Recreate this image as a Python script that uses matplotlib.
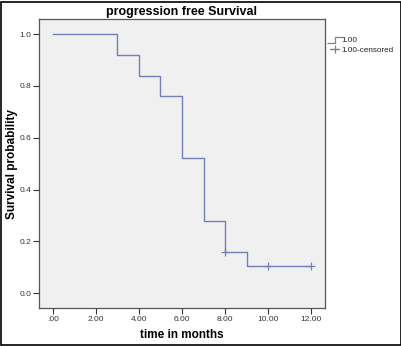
import matplotlib
matplotlib.use("Agg")
import matplotlib.pyplot as plt
from matplotlib.lines import Line2D
from matplotlib.path import Path
from matplotlib.patches import Rectangle

plt.rcParams['font.family'] = ['Liberation Sans', 'DejaVu Sans']

# Data
step_times = [0, 3, 4, 5, 6, 7, 8, 9, 12]
step_surv = [1.0, 0.92, 0.84, 0.76, 0.52, 0.28, 0.16, 0.1067, 0.1067]
cens_times = [8, 10, 12]
cens_surv = [0.16, 0.1067, 0.1067]
xticks = [0, 2, 4, 6, 8, 10, 12]
xtick_labels = ['.00', '2.00', '4.00', '6.00', '8.00', '10.00', '12.00']
yticks = [0.0, 0.2, 0.4, 0.6, 0.8, 1.0]
ytick_labels = ['0.0', '0.2', '0.4', '0.6', '0.8', '1.0']

W, H = 402, 346
fig = plt.figure(figsize=(W / 100, H / 100), dpi=100)
fig.patch.set_facecolor('white')
ax = fig.add_axes([39 / W, 1 - 308 / H, (325 - 39) / W, (308 - 19) / H])
ax.set_facecolor('#f0f0f0')

col = '#7281b5'
ax.step(step_times, step_surv, where='post', color=col, lw=1.0)
ax.plot(cens_times, cens_surv, linestyle='none', marker='+', color=col,
        markersize=6, markeredgewidth=0.9)

ax.set_xlim(-0.65, 12.65)
ax.set_ylim(-0.057, 1.058)
ax.set_xticks(xticks)
ax.set_xticklabels(xtick_labels)
ax.set_yticks(yticks)
ax.set_yticklabels(ytick_labels)
ax.tick_params(axis='both', labelsize=6, length=4, width=0.8, color='#333333',
               labelcolor='#333333', pad=1.5)
for s in ax.spines.values():
    s.set_color('#555555')
    s.set_linewidth(0.9)

fig.text(182 / W, 1 - 12.5 / H, 'progression free Survival', fontsize=9,
         fontweight='bold', ha='center', va='center')
fig.text(182 / W, 1 - 335 / H, 'time in months', fontsize=8.5,
         fontweight='bold', ha='center', va='center')
fig.text(12 / W, 1 - 164 / H, 'Survival probability', fontsize=8.5,
         fontweight='bold', ha='center', va='center', rotation=90)

# Legend
step_marker = Path([(-1, -0.4), (0, -0.4), (0, 0.4), (1, 0.4)])
h1 = Line2D([], [], linestyle='none', marker=step_marker, markersize=11,
            markerfacecolor='none', markeredgecolor=col, markeredgewidth=0.9)
h2 = Line2D([], [], color=col, lw=0.9, marker='+', markersize=6,
            markeredgewidth=0.9)
leg = fig.legend([h1, h2], ['1.00', '1.00-censored'], loc='upper left',
                 bbox_to_anchor=(328 / W, 1 - 35 / H), frameon=False,
                 fontsize=5.9, handlelength=1.2, handletextpad=0.2,
                 labelspacing=0.2, borderpad=0.2, borderaxespad=0)
for t in leg.get_texts():
    t.set_color('#222222')

# Outer frame
fig.patches.append(Rectangle((1 / W, 1 / H), 1 - 2 / W, 1 - 2.5 / H,
                             transform=fig.transFigure, fill=False,
                             edgecolor='black', lw=1.2))

fig.savefig('out.png', dpi=100)
